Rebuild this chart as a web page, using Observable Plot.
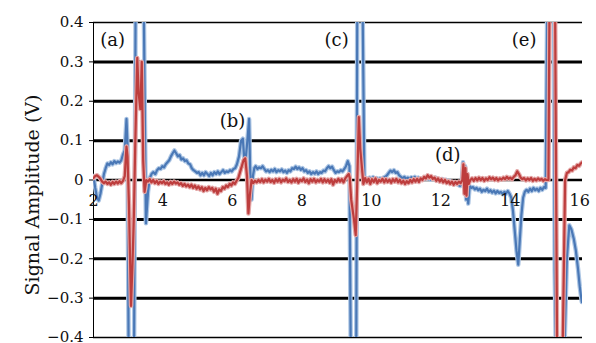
<!DOCTYPE html>
<html><head><meta charset="utf-8">
<script src="https://cdn.jsdelivr.net/npm/d3@7"></script>
<script src="https://cdn.jsdelivr.net/npm/@observablehq/plot@0.6"></script>
<style>body{margin:0;background:#fff}</style>
</head><body><div id="chart"></div>
<script>
// Blue trace (time, volts)
const blueT = [2.00,2.05,2.10,2.15,2.20,2.25,2.30,2.35,2.40,2.45,2.50,2.55,2.60,2.65,2.70,2.75,2.80,2.85,2.90,2.95,2.98,3.02,3.16,3.22,3.43,3.51,3.57,3.62,3.67,3.72,3.78,3.83,3.88,3.93,3.98,4.03,4.08,4.13,4.18,4.23,4.28,4.33,4.38,4.43,4.48,4.53,4.58,4.63,4.68,4.73,4.78,4.83,4.88,4.93,4.98,5.03,5.08,5.13,5.18,5.23,5.28,5.33,5.38,5.43,5.48,5.53,5.58,5.63,5.68,5.73,5.78,5.83,5.88,5.93,5.98,6.03,6.08,6.13,6.19,6.25,6.30,6.34,6.39,6.44,6.48,6.51,6.55,6.59,6.63,6.67,6.72,6.77,6.82,6.87,6.92,6.97,7.02,7.07,7.12,7.17,7.22,7.27,7.32,7.37,7.42,7.47,7.52,7.57,7.62,7.67,7.72,7.77,7.82,7.87,7.92,7.97,8.02,8.07,8.12,8.17,8.22,8.27,8.32,8.37,8.42,8.47,8.52,8.57,8.62,8.67,8.72,8.77,8.82,8.87,8.92,8.97,9.02,9.07,9.12,9.17,9.22,9.27,9.32,9.37,9.42,9.56,9.60,9.73,9.80,9.85,9.90,9.95,10.00,10.05,10.10,10.15,10.20,10.25,10.30,10.35,10.40,10.45,10.50,10.55,10.60,10.65,10.70,10.75,10.80,10.85,10.90,10.95,11.00,11.05,11.10,11.15,11.20,11.25,11.30,11.35,11.40,11.45,11.50,11.55,11.60,11.65,11.70,11.75,11.80,11.85,11.90,11.95,12.00,12.05,12.10,12.15,12.20,12.25,12.30,12.35,12.40,12.45,12.50,12.55,12.60,12.64,12.67,12.70,12.73,12.76,12.79,12.83,12.88,12.93,12.98,13.03,13.08,13.13,13.18,13.23,13.28,13.33,13.38,13.43,13.48,13.53,13.58,13.63,13.68,13.73,13.78,13.83,13.88,13.93,13.98,14.03,14.08,14.13,14.18,14.23,14.27,14.32,14.37,14.42,14.47,14.52,14.57,14.62,14.67,14.72,14.77,14.82,14.87,14.92,14.97,15.02,15.08,15.25,15.28,15.34,15.51,15.63,15.70,15.76,15.83,15.89,15.95,16.00,16.06];
const blueV = [0.010,-0.020,-0.045,-0.052,-0.035,-0.010,0.015,0.030,0.042,0.038,0.045,0.040,0.048,0.043,0.047,0.044,0.050,0.065,0.075,0.155,0.090,-0.600,-0.600,0.600,0.600,-0.110,-0.030,0.005,0.015,0.020,0.015,0.025,0.030,0.028,0.035,0.032,0.040,0.045,0.050,0.060,0.068,0.075,0.068,0.060,0.063,0.052,0.055,0.048,0.050,0.042,0.040,0.030,0.025,0.022,0.018,0.020,0.012,0.018,0.012,0.020,0.015,0.010,0.018,0.012,0.020,0.015,0.022,0.015,0.020,0.025,0.018,0.022,0.020,0.025,0.022,0.028,0.030,0.040,0.060,0.100,0.105,0.055,0.060,0.110,0.155,0.030,-0.050,0.010,0.030,0.035,0.028,0.032,0.030,0.035,0.028,0.022,0.025,0.020,0.026,0.022,0.028,0.020,0.025,0.022,0.027,0.020,0.024,0.018,0.025,0.022,0.030,0.028,0.034,0.028,0.032,0.026,0.030,0.022,0.025,0.018,0.022,0.015,0.020,0.016,0.022,0.015,0.020,0.018,0.024,0.022,0.030,0.035,0.030,0.034,0.025,0.018,0.022,0.020,0.025,0.022,0.028,0.035,0.048,0.035,-0.600,-0.600,0.600,0.600,0.000,0.005,0.002,0.006,0.003,0.007,0.002,0.005,0.000,0.004,0.001,0.006,0.008,0.012,0.018,0.024,0.020,0.025,0.018,0.020,0.012,0.008,0.004,0.008,0.003,0.006,0.002,0.007,0.004,0.008,0.002,0.006,0.000,0.004,0.002,0.007,0.003,0.006,0.001,0.005,0.002,0.006,0.000,0.003,-0.002,0.002,-0.004,0.000,-0.005,-0.002,-0.008,-0.005,-0.010,-0.008,-0.012,-0.015,-0.010,0.045,-0.020,0.035,-0.050,0.010,-0.060,-0.015,-0.020,-0.018,-0.024,-0.020,-0.026,-0.022,-0.030,-0.025,-0.028,-0.022,-0.030,-0.026,-0.032,-0.027,-0.034,-0.028,-0.033,-0.030,-0.036,-0.030,-0.034,-0.028,-0.035,-0.045,-0.080,-0.130,-0.180,-0.215,-0.160,-0.090,-0.045,-0.030,-0.025,-0.030,-0.022,-0.028,-0.020,-0.026,-0.022,-0.028,-0.020,-0.025,-0.018,-0.020,0.600,0.600,-0.230,-0.600,-0.600,-0.200,-0.115,-0.125,-0.150,-0.180,-0.225,-0.270,-0.310];

// Red trace (time, volts)
const redT = [2.00,2.05,2.10,2.15,2.20,2.25,2.30,2.35,2.40,2.45,2.50,2.55,2.60,2.65,2.70,2.75,2.80,2.85,2.90,2.95,2.98,3.02,3.08,3.12,3.16,3.20,3.26,3.30,3.35,3.39,3.43,3.47,3.52,3.57,3.62,3.67,3.72,3.77,3.82,3.87,3.92,3.97,4.02,4.07,4.12,4.17,4.22,4.27,4.32,4.37,4.42,4.47,4.52,4.57,4.62,4.67,4.72,4.77,4.82,4.87,4.92,4.97,5.02,5.07,5.12,5.17,5.22,5.27,5.32,5.37,5.42,5.47,5.52,5.57,5.62,5.67,5.72,5.77,5.82,5.87,5.92,5.97,6.02,6.07,6.12,6.17,6.22,6.27,6.32,6.37,6.42,6.46,6.50,6.55,6.60,6.65,6.70,6.75,6.80,6.85,6.90,6.95,7.00,7.05,7.10,7.15,7.20,7.25,7.30,7.35,7.40,7.45,7.50,7.55,7.60,7.65,7.70,7.75,7.80,7.85,7.90,7.95,8.00,8.05,8.10,8.15,8.20,8.25,8.30,8.35,8.40,8.45,8.50,8.55,8.60,8.65,8.70,8.75,8.80,8.85,8.90,8.95,9.00,9.05,9.10,9.15,9.20,9.25,9.30,9.35,9.38,9.42,9.50,9.55,9.58,9.61,9.64,9.68,9.72,9.77,9.82,9.87,9.92,9.97,10.02,10.07,10.12,10.17,10.22,10.27,10.32,10.37,10.42,10.47,10.52,10.57,10.62,10.67,10.72,10.77,10.82,10.87,10.92,10.97,11.02,11.07,11.12,11.17,11.22,11.27,11.32,11.37,11.42,11.47,11.52,11.57,11.62,11.67,11.72,11.77,11.82,11.87,11.92,11.97,12.02,12.07,12.12,12.17,12.22,12.27,12.32,12.37,12.42,12.47,12.52,12.57,12.62,12.65,12.68,12.71,12.74,12.77,12.80,12.85,12.90,12.95,13.00,13.05,13.10,13.15,13.20,13.25,13.30,13.35,13.40,13.45,13.50,13.55,13.60,13.65,13.70,13.75,13.80,13.85,13.90,13.95,14.00,14.05,14.10,14.15,14.20,14.25,14.30,14.35,14.40,14.45,14.50,14.55,14.60,14.65,14.70,14.75,14.80,14.85,14.90,14.95,15.00,15.05,15.10,15.14,15.28,15.36,15.48,15.58,15.63,15.68,15.73,15.78,15.83,15.88,15.93,15.98,16.03,16.07];
const redV = [0.005,0.010,0.012,0.008,0.003,-0.004,-0.008,-0.004,-0.010,-0.006,-0.012,-0.005,-0.010,-0.004,-0.009,-0.003,-0.008,-0.002,0.010,0.085,0.060,-0.060,-0.320,-0.220,-0.100,0.080,0.310,0.220,0.180,0.300,0.050,-0.030,0.000,-0.004,0.002,-0.006,0.000,-0.008,-0.002,-0.010,-0.004,-0.008,-0.003,-0.010,-0.006,-0.012,-0.005,-0.010,-0.004,-0.009,-0.006,-0.012,-0.008,-0.015,-0.010,-0.016,-0.012,-0.018,-0.012,-0.020,-0.014,-0.022,-0.016,-0.024,-0.018,-0.028,-0.020,-0.026,-0.018,-0.024,-0.020,-0.030,-0.022,-0.035,-0.024,-0.028,-0.018,-0.022,-0.014,-0.018,-0.010,-0.014,-0.006,-0.010,-0.002,0.005,0.020,0.035,0.050,0.055,0.010,-0.085,-0.040,0.000,-0.008,-0.002,-0.006,0.000,-0.005,0.002,-0.006,0.001,-0.004,0.003,-0.005,0.000,-0.007,0.002,-0.004,0.003,-0.006,0.001,-0.003,0.004,-0.005,0.000,-0.006,0.002,-0.004,0.003,-0.007,0.001,-0.003,0.004,-0.005,0.001,-0.008,0.002,-0.004,0.003,-0.006,0.000,-0.004,0.003,-0.006,0.002,-0.005,0.001,-0.007,0.002,-0.012,0.000,-0.005,0.003,-0.004,0.002,-0.006,0.004,0.010,0.015,0.005,-0.050,-0.100,-0.140,-0.050,0.050,0.160,0.080,0.040,-0.010,0.005,-0.006,0.003,-0.010,0.002,-0.005,0.004,-0.008,0.000,-0.004,0.003,-0.006,0.002,-0.005,0.001,-0.007,0.002,-0.004,0.003,-0.006,0.000,-0.008,-0.002,-0.010,-0.003,-0.008,0.000,-0.006,0.002,-0.004,0.003,-0.005,0.004,0.000,0.008,0.004,0.012,0.006,0.010,0.003,0.006,-0.002,0.004,-0.004,0.002,-0.006,0.000,-0.008,-0.003,-0.010,-0.004,-0.012,-0.005,-0.010,-0.004,-0.008,0.000,0.040,-0.035,0.030,-0.040,0.015,-0.010,0.000,0.004,-0.002,0.005,-0.001,0.006,0.000,0.005,-0.002,0.004,0.000,0.007,0.002,0.006,0.000,0.005,-0.001,0.004,0.001,0.006,0.002,0.008,0.003,0.006,0.002,0.008,0.012,0.022,0.015,0.006,0.002,0.005,-0.001,0.004,0.000,0.005,-0.002,0.003,-0.001,0.004,0.000,0.003,-0.002,0.002,0.000,0.000,0.600,0.600,-0.600,-0.600,0.000,0.018,0.020,0.026,0.024,0.032,0.030,0.038,0.036,0.042,0.045];

const xTicks = [2, 4, 6, 8, 10, 12, 14, 16];
const yTicks = [-0.4, -0.3, -0.2, -0.1, 0, 0.1, 0.2, 0.3, 0.4];
const gridLevels = [-0.3, -0.2, -0.1, 0.1, 0.2, 0.3];
const annotText = ["(a)", "(b)", "(c)", "(d)", "(e)"];
const annotT = [2.55, 6.0, 9.0, 12.2, 14.4];
const annotV = [0.355, 0.148, 0.355, 0.062, 0.355];

const blue = blueT.map((t, i) => ({t, v: blueV[i]}));
const red = redT.map((t, i) => ({t, v: redV[i]}));
const annots = annotText.map((s, i) => ({s, t: annotT[i], v: annotV[i]}));

const fmt = d => d === 0 ? "0" : d.toFixed(1).replace("-", "\u2212");

const chart = Plot.plot({
  width: 596, height: 343,
  marginLeft: 93, marginRight: 14, marginTop: 22, marginBottom: 6,
  x: {domain: [2, 16.08], axis: null},
  y: {domain: [-0.4, 0.4], axis: null},
  style: {fontFamily: "DejaVu Serif", background: "#fff", color: "#111"},
  marks: [
    Plot.ruleY(gridLevels, {stroke: "#000", strokeWidth: 3}),
    Plot.ruleY([0.4, -0.4], {stroke: "#000", strokeWidth: 1.5}),
    Plot.ruleY([0], {stroke: "#000", strokeWidth: 2.5}),
    Plot.ruleX([2], {stroke: "#000", strokeWidth: 1}),
    Plot.axisY(yTicks, {tickSize: 4, tickPadding: 6, tickFormat: fmt, fontSize: 15, label: null, stroke: "#000"}),
    Plot.line(blue, {x: "t", y: "v", stroke: "#adc6e4", strokeWidth: 4.5, clip: true}),
    Plot.line(blue, {x: "t", y: "v", stroke: "#4a78b6", strokeWidth: 2.2, clip: true}),
    Plot.line(red, {x: "t", y: "v", stroke: "#e4a8a8", strokeWidth: 4.5, clip: true}),
    Plot.line(red, {x: "t", y: "v", stroke: "#bd3d3d", strokeWidth: 2.2, clip: true}),
    Plot.text(xTicks, {x: d => d, y: 0, dy: 21, text: d => String(d), fontSize: 16, fill: "#111"}),
    Plot.text(annots, {x: "t", y: "v", text: "s", fontSize: 18, fill: "#111"}),
    Plot.text(["Signal Amplitude (V)"], {frameAnchor: "left", textAnchor: "middle", rotate: -90, dx: -61, dy: 15, fontSize: 19, fill: "#111"})
  ]
});
document.getElementById("chart").appendChild(chart);
</script>
</body></html>
